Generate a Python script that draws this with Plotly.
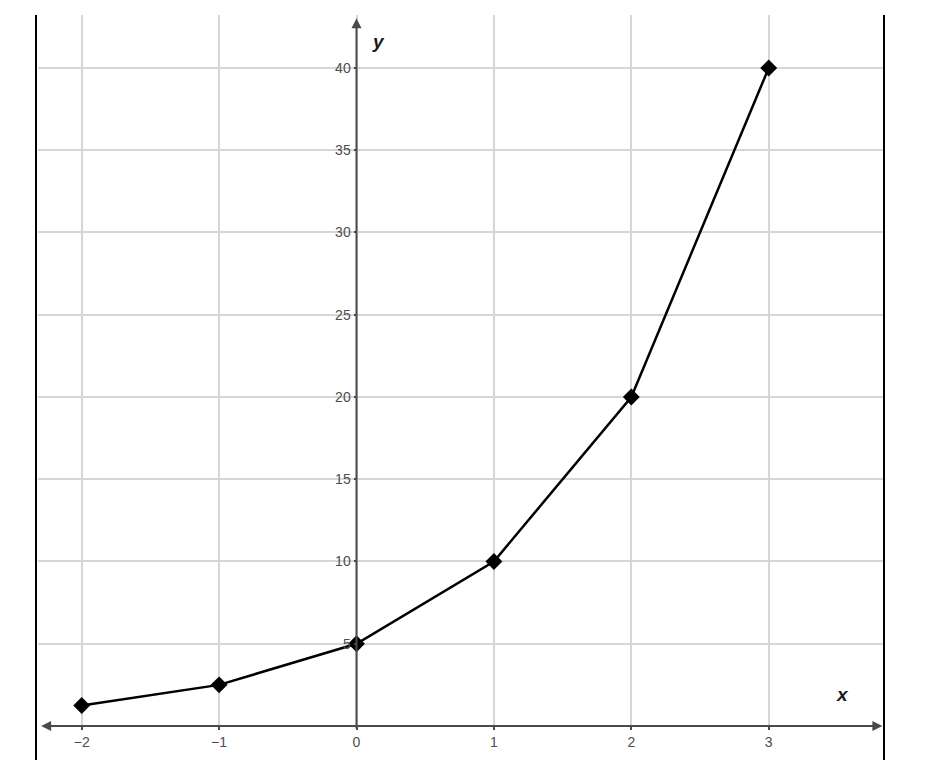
import plotly.graph_objects as go

# Data
x_values = [-2, -1, 0, 1, 2, 3]
y_values = [1.25, 2.5, 5, 10, 20, 40]
x_ticks = [-2, -1, 0, 1, 2, 3]
y_ticks = [5, 10, 15, 20, 25, 30, 35, 40]

# The page body adds an 8px offset; the figure is laid out in reference pixels minus 8.
OFF = 8
W, H = 924, 752
def fx(px):
    return (px - OFF) / W
def fy(py):
    return 1 - (py - OFF) / H

X_RANGE = [-2.318, 3.839]
Y_RANGE = [0, 43.22]
GRID = "#d6d6d6"
AXIS = "#4a4a4a"
LABEL = "#4d4d4d"
FONT = "Liberation Sans, Arial"

fig = go.Figure()
fig.add_trace(go.Scatter(
    x=x_values, y=y_values, mode="lines+markers",
    line=dict(color="black", width=2.5),
    marker=dict(symbol="diamond", size=13, color="black"),
    hoverinfo="skip", showlegend=False,
))

fig.update_layout(
    width=W, height=H, template="none",
    margin=dict(l=0, r=0, t=0, b=0),
    paper_bgcolor="white", plot_bgcolor="white",
    xaxis=dict(
        domain=[fx(38), fx(884)], range=X_RANGE,
        tickvals=x_ticks, showgrid=True, gridcolor=GRID, gridwidth=2,
        zeroline=False, showline=False, automargin=False,
        ticks="outside", ticklen=3, tickcolor=AXIS, tickwidth=1.5,
        tickfont=dict(family=FONT, size=14, color=LABEL),
        fixedrange=True,
    ),
    yaxis=dict(
        domain=[fy(726), fy(15)], range=Y_RANGE,
        anchor="free", position=fx(356.5),
        tickvals=y_ticks, showgrid=True, gridcolor=GRID, gridwidth=2,
        zeroline=False, showline=False, automargin=False,
        ticks="outside", ticklen=3, tickcolor=AXIS, tickwidth=1.5,
        tickfont=dict(family=FONT, size=14, color=LABEL),
        fixedrange=True,
    ),
)

# Axis arrows
fig.add_annotation(
    x=X_RANGE[1] - 0.012, y=0, ax=X_RANGE[0] + 0.012, ay=0,
    xref="x", yref="y", axref="x", ayref="y", text="", showarrow=True,
    arrowhead=2, startarrowhead=2, arrowside="end+start",
    arrowsize=1, startarrowsize=1, arrowwidth=2, arrowcolor=AXIS, standoff=0, startstandoff=0,
)
fig.add_annotation(
    x=0, y=Y_RANGE[1] - 0.2, ax=0, ay=-0.25,
    xref="x", yref="y", axref="x", ayref="y", text="", showarrow=True,
    arrowhead=2, arrowsize=1, arrowwidth=2, arrowcolor=AXIS, standoff=0,
)

# Axis names
fig.add_annotation(x=0.16, y=41.6, xref="x", yref="y", text="<b><i>y</i></b>",
                   showarrow=False, font=dict(family=FONT, size=19, color="#1a1a1a"))
fig.add_annotation(x=3.54, y=1.9, xref="x", yref="y", text="<b><i>x</i></b>",
                   showarrow=False, font=dict(family=FONT, size=19, color="#1a1a1a"))

# Frame borders
for px in (36, 884):
    fig.add_shape(type="line", xref="paper", yref="paper",
                  x0=fx(px), x1=fx(px), y0=0, y1=fy(15),
                  line=dict(color="black", width=2))

fig.write_html("out.html")
